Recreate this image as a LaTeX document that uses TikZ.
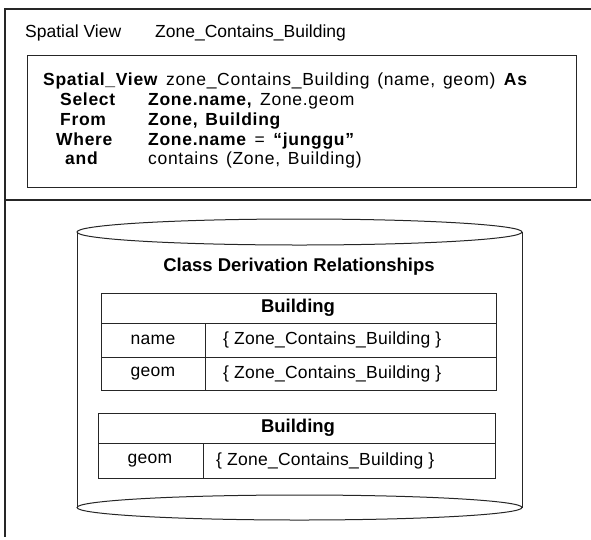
\documentclass[tikz,border=0pt]{standalone}
\usepackage{fontspec}
\setmainfont{Liberation Sans}
\newfontfamily\sqlfont[LetterSpace=4,WordSpace=1.4]{Liberation Sans}
\newfontfamily\cellfont[LetterSpace=1.5]{Liberation Sans}
\begin{document}
\begin{tikzpicture}[x=1pt,y=-1pt,
  frame/.style={line width=1.1pt,draw=black!85},
  thin/.style={line width=1pt,draw=black!85},
  txt/.style={inner sep=0pt,font=\fontsize{17.5}{20}\selectfont},
  sqltxt/.style={inner sep=0pt,anchor=base west,font=\sqlfont\fontsize{17.5}{20}\selectfont},
  ttl/.style={inner sep=0pt,font=\fontsize{18.5}{22}\selectfont\bfseries},
  celltxt/.style={inner sep=0pt,font=\cellfont\fontsize{17.5}{20}\selectfont}]
\useasboundingbox (0,0) rectangle (591,539);
% outer frame
\draw[frame] (591,9) -- (5,9) -- (5,537);
\draw[frame] (5,200) -- (591,200);
% header
\node[txt,anchor=base west] (hdra) at (25,37) {Spatial View};
\node[txt,anchor=base west] (hdrb) at (155,37) {Zone\_Contains\_Building};
% SQL box
\node[frame,draw,anchor=north west,inner sep=0pt,minimum width=549pt,minimum height=132pt] (sqlbox) at (27,55) {};
\node[sqltxt] (l1) at (43,85) {\textbf{Spatial\_View} zone\_Contains\_Building (name, geom) \textbf{As}};
\node[sqltxt] (k2) at (60,105) {\textbf{Select}};
\node[sqltxt] (k3) at (60,125) {\textbf{From}};
\node[sqltxt] (k4) at (56,145) {\textbf{Where}};
\node[sqltxt] (k5) at (65,164) {\textbf{and}};
\node[sqltxt] (v2) at (148,105) {\textbf{Zone.name,} Zone.geom};
\node[sqltxt] (v3) at (148,125) {\textbf{Zone, Building}};
\node[sqltxt] (v4) at (148,145) {\textbf{Zone.name} = \textbf{“junggu”}};
\node[sqltxt] (v5) at (148,164) {contains (Zone, Building)};
% cylinder
\draw[thin] (77,232) -- (77,507.5);
\draw[thin] (522,232) -- (522,507.5);
\draw[thin] (299.5,232) ellipse [x radius=222.5pt, y radius=13pt];
\draw[thin] (299.5,507.5) ellipse [x radius=222.5pt, y radius=12.5pt];
\node[ttl] (cdr) at (299,267) {Class Derivation Relationships};
% table 1
\draw[thin] (101,293) rectangle (496,390);
\draw[thin] (101,323) -- (496,323);
\draw[thin] (101,357) -- (496,357);
\draw[thin] (205,323) -- (205,390);
\node[ttl] (b1) at (298,308) {Building};
\node[celltxt] (n1) at (153,340) {name};
\node[celltxt,anchor=west] (z1) at (223,340) {\{ Zone\_Contains\_Building \}};
\node[celltxt] (g1) at (153,373.5) {geom};
\node[celltxt,anchor=west] (z2) at (223,373.5) {\{ Zone\_Contains\_Building \}};
% table 2
\draw[thin] (98,413) rectangle (495,478);
\draw[thin] (98,443) -- (495,443);
\draw[thin] (203,443) -- (203,478);
\node[ttl] (b2) at (298,428) {Building};
\node[celltxt] (g2) at (150,461) {geom};
\node[celltxt,anchor=west] (z3) at (216,461) {\{ Zone\_Contains\_Building \}};
\end{tikzpicture}
\end{document}
